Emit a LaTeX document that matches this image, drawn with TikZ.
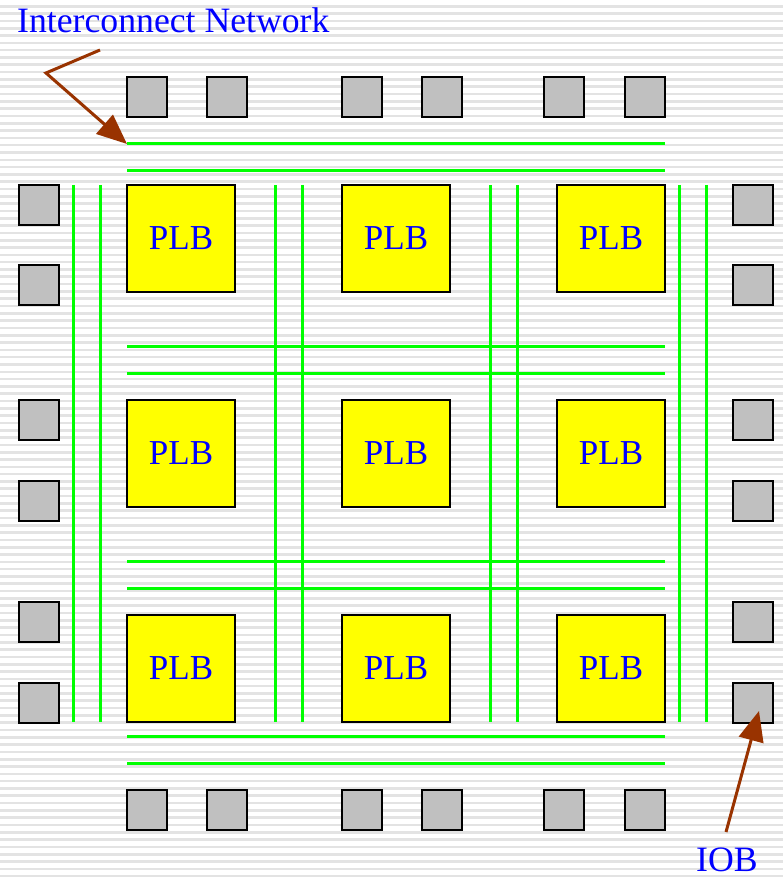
\documentclass[tikz,border=0pt]{standalone}
\usepackage{fontspec}
\setmainfont{Liberation Serif}
\usetikzlibrary{arrows.meta}
\definecolor{stripe}{HTML}{E3E3E3}
\definecolor{iobgray}{HTML}{C0C0C0}
\definecolor{wire}{HTML}{00FF00}
\definecolor{plbyellow}{HTML}{FFFF00}
\definecolor{labelblue}{HTML}{0000FF}
\definecolor{arrowbrown}{HTML}{993300}
\tikzset{
  iob/.style={draw=black, line width=2.2pt, fill=iobgray, minimum width=40pt, minimum height=40pt, inner sep=0pt},
  plb/.style={draw=black, line width=2pt, fill=plbyellow, minimum width=108pt, minimum height=107pt, inner sep=0pt,
    text=labelblue, font=\fontsize{35}{40}\selectfont},
  wireline/.style={draw=wire, line width=3pt},
  lbl/.style={text=labelblue, font=\fontsize{35.7}{40}\selectfont, inner sep=0pt},
  pointer/.style={draw=arrowbrown, line width=3pt, -{Triangle[length=30pt,width=25pt]}}
}
\begin{document}
\begin{tikzpicture}[x=1pt,y=-1pt]
\useasboundingbox (0,0) rectangle (783,877);
\fill[white] (0,0) rectangle (783,877);
% striped background
\foreach \i in {0,...,119} {
  \fill[stripe] (0,{5+7.31*\i}) rectangle (783,{7.6+7.31*\i});
}
% interconnect wires: horizontal
\foreach \y in {144,171,346,373,561,588,736,763} {
  \draw[wireline] (127,\y) -- (665,\y);
}
% interconnect wires: vertical
\foreach \x in {73,100,275,302,490,517,679,706} {
  \draw[wireline] (\x,185) -- (\x,722);
}
% PLBs
\foreach \cx/\r in {181/a,396/b,611/c} {
  \foreach \cy/\c in {238.5/1,453.5/2,668.5/3} {
    \node[plb] (plb\r\c) at (\cx,\cy) {PLB};
  }
}
% IOBs top and bottom
\foreach \cx/\n in {147/1,227/2,362/3,442/4,564/5,645/6} {
  \node[iob] (iobt\n) at (\cx,97) {};
  \node[iob] (iobb\n) at (\cx,810) {};
}
% IOBs left and right
\foreach \cy/\n in {205/1,285/2,420/3,501/4,622/5,703/6} {
  \node[iob] (iobl\n) at (39,\cy) {};
  \node[iob] (iobr\n) at (753,\cy) {};
}
% labels
\node[lbl, anchor=base west] (netlabel) at (17,33) {Interconnect Network};
\node[lbl, anchor=base west] (ioblabel) at (696,871) {IOB};
% pointers
\coordinate (netstart) at (100,50);
\coordinate (netbend) at (46,73);
\coordinate (nettip) at (127,144);
\draw[pointer] (netstart) -- (netbend) -- (nettip);
\coordinate (iobstart) at (726,832);
\coordinate (iobtip) at (759,711);
\draw[pointer] (iobstart) -- (iobtip);
\end{tikzpicture}
\end{document}
